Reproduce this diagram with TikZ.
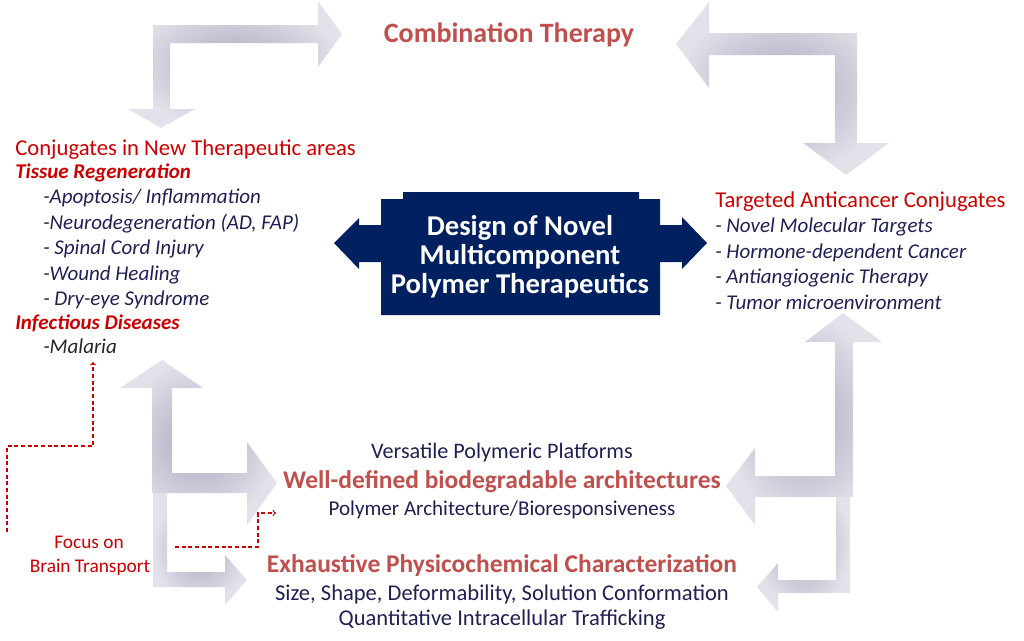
\documentclass[tikz,border=0pt]{standalone}
\usepackage{fontspec}
\setmainfont{Carlito}
\definecolor{navybox}{RGB}{0,32,96}
\definecolor{headred}{RGB}{192,80,77}
\definecolor{listred}{RGB}{204,0,0}
\definecolor{listnavy}{RGB}{32,32,84}
\definecolor{arrowdark}{RGB}{168,168,190}
\definecolor{arrowlight}{RGB}{226,226,234}
\begin{document}
\begin{tikzpicture}[x=0.75pt,y=-0.75pt,
    blockarrow/.style={inner color=arrowdark,outer color=arrowlight},
    bigtitle/.style={inner sep=0,anchor=base,text=headred,font=\fontsize{19.1}{22}\selectfont\bfseries},
    subline/.style={inner sep=0,anchor=base,text=listnavy,font=\fontsize{16.9}{20}\selectfont},
    designline/.style={inner sep=0,anchor=base,text=white,font=\fontsize{21.5}{25}\selectfont\bfseries},
    listhead/.style={inner sep=0,anchor=base west,text=listred,font=\fontsize{17}{20}\selectfont},
    listgroup/.style={inner sep=0,anchor=base west,text=listred,font=\fontsize{15.75}{18}\selectfont\bfseries\itshape},
    listitem/.style={inner sep=0,anchor=base west,text=listnavy,font=\fontsize{15.75}{18}\selectfont\itshape},
    focustext/.style={inner sep=0,anchor=base,text=listred,font=\fontsize{14.5}{17}\selectfont},
    brainlink/.style={draw=listred,line width=0.8pt,dash pattern=on 3pt off 2pt,->}]
    \useasboundingbox (0,0) rectangle (1024,640);
    % grey block arrows
    \shade[blockarrow] (161,128) -- (195,109) -- (170,109) -- (170,43) -- (318,43) -- (318,67) -- (342,34)
        -- (318,1) -- (318,25) -- (153,25) -- (153,109) -- (128,109) -- cycle;
    \shade[blockarrow] (676,44) -- (709,2) -- (709,33) -- (857,33) -- (857,143) -- (889,143) -- (846,175)
        -- (803,143) -- (835,143) -- (835,55) -- (709,55) -- (709,88) -- cycle;
    \shade[blockarrow] (153,493) -- (167,493) -- (167,572) -- (225,572) -- (225,555) -- (247,580)
        -- (225,605) -- (225,587) -- (153,587) -- cycle;
    \shade[blockarrow] (162,360) -- (203,388) -- (172,388) -- (172,473) -- (247,473) -- (247,442) -- (277,483)
        -- (247,525) -- (247,493) -- (152,493) -- (152,388) -- (120,388) -- cycle;
    \shade[blockarrow] (836,476) -- (850,476) -- (850,593) -- (778,593) -- (778,612) -- (757,587)
        -- (778,563) -- (778,580) -- (836,580) -- cycle;
    \shade[blockarrow] (843,313) -- (882,342) -- (853,342) -- (853,497) -- (755,497) -- (755,525) -- (726,486)
        -- (755,448) -- (755,476) -- (835,476) -- (835,342) -- (805,342) -- cycle;
    % central box
    \fill[navybox] (334,243) -- (359,218) -- (359,225) -- (381,225) -- (381,199) -- (403,199) -- (403,192)
        -- (639,192) -- (639,199) -- (660,199) -- (660,225) -- (682,225) -- (682,217) -- (707,243)
        -- (682,269) -- (682,262) -- (660,262) -- (660,315) -- (381,315) -- (381,262) -- (359,262)
        -- (359,269) -- cycle;
    \node[designline] (design1) at (520,235) {Design of Novel};
    \node[designline] (design2) at (520,264) {Multicomponent};
    \node[designline] (design3) at (520,293) {Polymer Therapeutics};
    % top
    \node[bigtitle,font=\fontsize{21}{24}\selectfont\bfseries] (combo) at (509,42) {Combination Therapy};
    % left list
    \node[listhead] (newareas) at (15,155) {Conjugates in New Therapeutic areas};
    \node[listgroup] (tissue) at (15,178) {Tissue Regeneration};
    \node[listitem] (apop) at (43,203) {-Apoptosis/ Inflammation};
    \node[listitem] (neuro) at (43,229) {-Neurodegeneration (AD, FAP)};
    \node[listitem] (spinal) at (43,254) {- Spinal Cord Injury};
    \node[listitem] (wound) at (43,280) {-Wound Healing};
    \node[listitem] (dryeye) at (43,305) {- Dry-eye Syndrome};
    \node[listgroup] (infect) at (15,329) {Infectious Diseases};
    \node[listitem,text=black!85] (malaria) at (43,353) {-Malaria};
    % right list
    \node[listhead] (anticancer) at (715,207) {Targeted Anticancer Conjugates};
    \node[listitem] (targets) at (715,232) {- Novel Molecular Targets};
    \node[listitem] (hormone) at (715,258) {- Hormone-dependent Cancer};
    \node[listitem] (angio) at (715,283) {- Antiangiogenic Therapy};
    \node[listitem] (tumor) at (715,309) {- Tumor microenvironment};
    % bottom centre
    \node[subline,font=\fontsize{16.6}{19}\selectfont] (versatile) at (502,458) {Versatile Polymeric Platforms};
    \node[bigtitle] (welldef) at (502,488) {Well-defined biodegradable architectures};
    \node[subline,font=\fontsize{15.8}{19}\selectfont] (bioresp) at (502,515) {Polymer Architecture/Bioresponsiveness};
    \node[bigtitle] (physchem) at (502,572) {Exhaustive Physicochemical Characterization};
    \node[subline] (shape) at (502,600) {Size, Shape, Deformability, Solution Conformation};
    \node[subline] (traffic) at (502,625) {Quantitative Intracellular Trafficking};
    % brain transport
    \node[focustext] (focus) at (89,548) {Focus on};
    \node[focustext] (brain) at (90,572) {Brain Transport};
    \coordinate (linkA) at (7,532);
    \coordinate (linkB) at (93,362);
    \coordinate (linkC) at (175,547);
    \coordinate (linkD) at (276,513);
    \draw[brainlink] (linkA) |- (93,446) -- (linkB);
    \draw[brainlink] (linkC) -| (258,513) -- (linkD);
\end{tikzpicture}
\end{document}
